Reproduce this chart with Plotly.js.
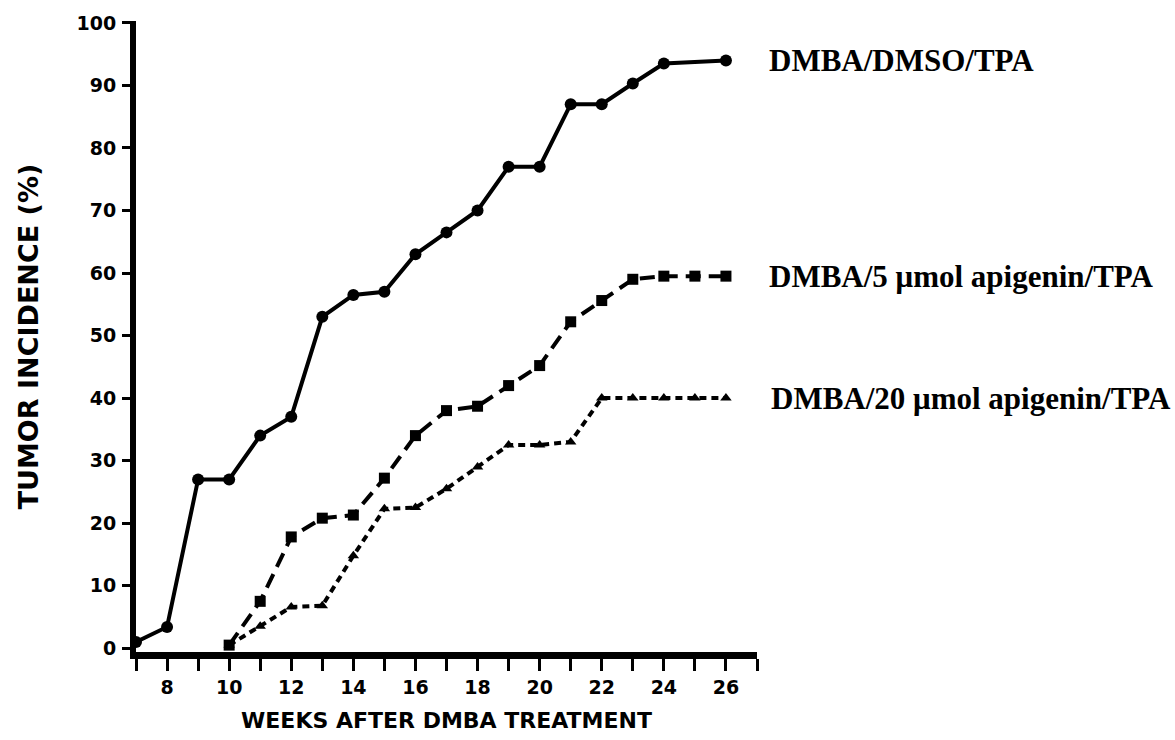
<!DOCTYPE html>
<html>
<head>
<meta charset="utf-8">
<script src="https://cdn.plot.ly/plotly-3.0.1.min.js"></script>
<style>html,body{margin:0;padding:0;background:#fff;}#chart{width:1175px;height:740px;}</style>
</head>
<body>
<div id="chart"></div>
<script>
// Weeks after DMBA treatment (x) and tumor incidence in % (y)
var seriesNames = ["DMBA/DMSO/TPA", "DMBA/5 μmol apigenin/TPA", "DMBA/20 μmol apigenin/TPA"];

var weeksDMSO = [7, 8, 9, 10, 11, 12, 13, 14, 15, 16, 17, 18, 19, 20, 21, 22, 23, 24, 26];
var incidenceDMSO = [1, 3.4, 27, 27, 34, 37, 53, 56.5, 57, 63, 66.5, 70, 77, 77, 87, 87, 90.3, 93.5, 94];

var weeksApi5 = [10, 11, 12, 13, 14, 15, 16, 17, 18, 19, 20, 21, 22, 23, 24, 25, 26];
var incidenceApi5 = [0.5, 7.5, 17.8, 20.8, 21.3, 27.2, 34, 38, 38.7, 42, 45.2, 52.2, 55.6, 59, 59.5, 59.5, 59.5];

var weeksApi20 = [10, 11, 12, 13, 14, 15, 16, 17, 18, 19, 20, 21, 22, 23, 24, 25, 26];
var incidenceApi20 = [0.5, 3.5, 6.6, 6.8, 14.8, 22.3, 22.5, 25.5, 29, 32.5, 32.5, 33, 40, 40, 40, 40, 40];

var xTickVals = [7, 8, 9, 10, 11, 12, 13, 14, 15, 16, 17, 18, 19, 20, 21, 22, 23, 24, 25, 26, 27];
var xTickText = ["", "8", "", "10", "", "12", "", "14", "", "16", "", "18", "", "20", "", "22", "", "24", "", "26", ""];
var yTickVals = [0, 10, 20, 30, 40, 50, 60, 70, 80, 90, 100];
var yTickText = ["0", "10", "20", "30", "40", "50", "60", "70", "80", "90", "100"];

var xAxisTitle = "WEEKS AFTER DMBA TREATMENT";
var yAxisTitle = "TUMOR INCIDENCE (%)";

var traces = [
  {
    x: weeksDMSO, y: incidenceDMSO, name: seriesNames[0], type: "scatter", mode: "lines+markers",
    line: {color: "#000", width: 4, dash: "solid"},
    marker: {symbol: "circle", size: 12, color: "#000"},
    cliponaxis: false
  },
  {
    x: weeksApi5, y: incidenceApi5, name: seriesNames[1], type: "scatter", mode: "lines+markers",
    line: {color: "#000", width: 4, dash: "15px,8px"},
    marker: {symbol: "square", size: 11, color: "#000"},
    cliponaxis: false
  },
  {
    x: weeksApi20, y: incidenceApi20, name: seriesNames[2], type: "scatter", mode: "lines+markers",
    line: {color: "#000", width: 4, dash: "7px,5px"},
    marker: {symbol: "triangle-up", size: 10, color: "#000"},
    cliponaxis: false
  }
];

var lastVals = [incidenceDMSO[incidenceDMSO.length - 1], incidenceApi5[incidenceApi5.length - 1], incidenceApi20[incidenceApi20.length - 1]];
var labelX = [1.016, 1.016, 1.019];
var annotations = seriesNames.map(function (nm, i) {
  return {
    text: nm, x: labelX[i], y: lastVals[i], xref: "paper", yref: "y",
    xanchor: "left", yanchor: "middle", showarrow: false,
    font: {family: "Liberation Serif, Times New Roman, serif", size: 31, color: "#000", weight: 700}
  };
});

var tickFont = {family: "DejaVu Sans, sans-serif", size: 19, color: "#000", weight: 700};

var layout = {
  width: 1175, height: 740,
  margin: {l: 136, r: 418, t: 21, b: 88, pad: 0},
  paper_bgcolor: "#fff", plot_bgcolor: "#fff",
  showlegend: false,
  xaxis: {
    range: [7, 27], tickmode: "array", tickvals: xTickVals, ticktext: xTickText,
    ticks: "outside", ticklen: 12, tickwidth: 3, tickcolor: "#000",
    showline: true, linewidth: 7, linecolor: "#000", showgrid: false, zeroline: false,
    tickfont: tickFont, ticklabelstandoff: 0,
    title: {text: xAxisTitle, font: {family: "DejaVu Sans, sans-serif", size: 22, color: "#000", weight: 700}, standoff: 18}
  },
  yaxis: {
    range: [-0.6, 100.3], tickmode: "array", tickvals: yTickVals, ticktext: yTickText,
    ticks: "outside", ticklen: 8, tickwidth: 3, tickcolor: "#000",
    showline: true, linewidth: 6, linecolor: "#000", showgrid: false, zeroline: false,
    tickfont: tickFont, ticklabelstandoff: 2,
    title: {text: yAxisTitle, font: {family: "DejaVu Sans, sans-serif", size: 27, color: "#000", weight: 700}, standoff: 32}
  },
  annotations: annotations
};

Plotly.newPlot("chart", traces, layout, {displayModeBar: false, staticPlot: true});
</script>
</body>
</html>
